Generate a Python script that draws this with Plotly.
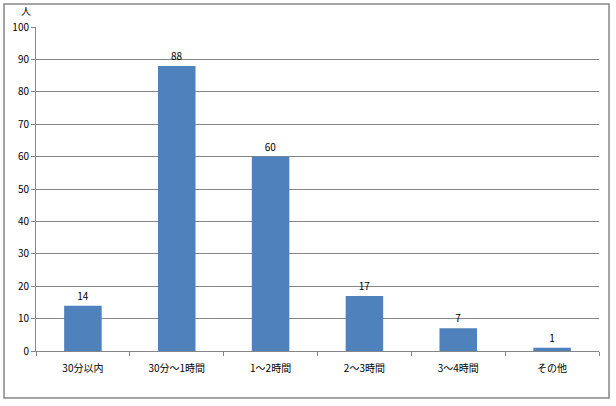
import plotly.graph_objects as go

categories = ["30分以内", "30分～1時間", "1～2時間", "2～3時間", "3～4時間", "その他"]
counts = [14, 88, 60, 17, 7, 1]
y_ticks = [0, 10, 20, 30, 40, 50, 60, 70, 80, 90, 100]

font_name = "Noto Sans CJK JP"
axis_gray = "#868686"

fig = go.Figure()
fig.add_trace(go.Bar(
    x=categories, y=counts,
    marker=dict(color="#4F81BD", line=dict(width=0)),
    text=counts, textposition="outside", cliponaxis=False,
    textfont=dict(size=10, color="black", family=font_name),
))

fig.update_xaxes(
    showline=True, linecolor=axis_gray, linewidth=1,
    ticks="outside", tickson="boundaries", ticklen=4, tickcolor=axis_gray,
    tickfont=dict(size=10, color="black", family=font_name),
    ticklabelstandoff=8,
    showgrid=False, automargin=False,
)
fig.update_yaxes(
    range=[0, 100], tickvals=y_ticks,
    showline=True, linecolor=axis_gray, linewidth=1,
    ticks="outside", ticklen=4, tickcolor=axis_gray,
    showgrid=True, gridcolor=axis_gray, gridwidth=1,
    tickfont=dict(size=10, color="black", family=font_name),
    zeroline=False, automargin=False,
)

fig.update_layout(
    autosize=False,
    width=616,
    height=406,
    margin=dict(l=36, r=17, t=27, b=55),
    plot_bgcolor="white",
    paper_bgcolor="white",
    bargap=0.6,
    showlegend=False,
    font=dict(family=font_name, size=10, color="black"),
)

# unit label above the y axis
fig.add_annotation(
    text="人", xref="paper", yref="paper", x=-0.0178, y=1.05,
    showarrow=False, font=dict(size=10, color="black", family=font_name),
    xanchor="center", yanchor="middle",
)

# chart border
fig.add_shape(
    type="rect", xref="paper", yref="paper",
    x0=-0.0568, x1=1.0178, y0=-0.145, y1=1.071,
    line=dict(color=axis_gray, width=1.5), fillcolor="rgba(0,0,0,0)",
)

# page has a default body margin; drop it so the figure sits at the window corner
fig.write_html("out.html", config={"displayModeBar": False},
               post_script="document.body.style.margin='0';")
